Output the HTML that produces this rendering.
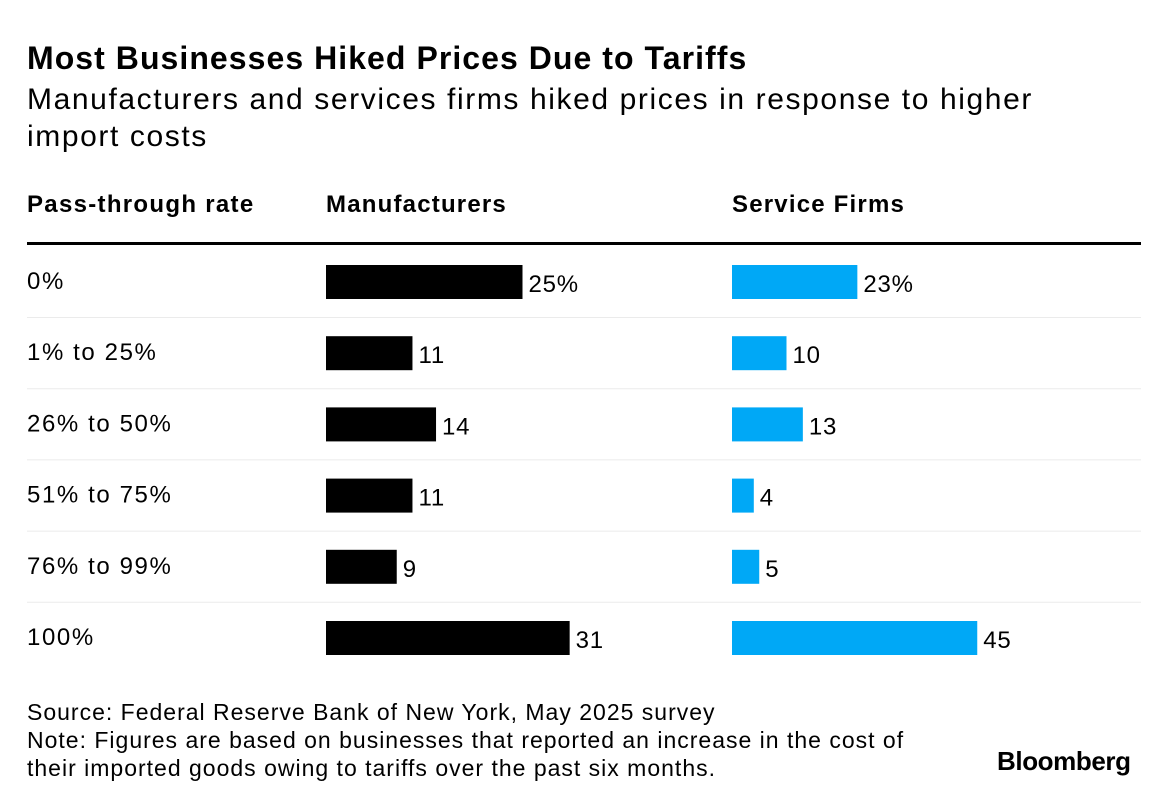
<!DOCTYPE html>
<html><head><meta charset="utf-8">
<style>
body{margin:0;background:#fff;font-family:"Liberation Sans",Arial,sans-serif;color:#000;}
#wrap{position:relative;width:1167px;height:804px;overflow:hidden;}
.t{position:absolute;white-space:nowrap;}
</style></head>
<body>
<div id="wrap">
<div class="t" style="left:27px;top:40px;font-size:32px;font-weight:bold;letter-spacing:1.05px;">Most Businesses Hiked Prices Due to Tariffs</div>
<div class="t" style="left:27px;top:81px;font-size:30px;line-height:37px;letter-spacing:1.6px;">Manufacturers and services firms hiked prices in response to higher<br>import costs</div>
<div class="t" style="left:27px;top:191px;font-size:24px;font-weight:bold;letter-spacing:1.3px;">Pass-through rate</div>
<div class="t" style="left:326px;top:191px;font-size:24px;font-weight:bold;letter-spacing:1.2px;">Manufacturers</div>
<div class="t" style="left:732px;top:191px;font-size:24px;font-weight:bold;letter-spacing:1.2px;">Service Firms</div>
<div style="position:absolute;left:27px;top:242px;width:1114px;height:3px;background:#000;"></div>
<svg id="svg" width="1167" height="804" style="position:absolute;left:0;top:0"></svg>
<div class="t" style="left:27px;top:698px;font-size:23px;line-height:28px;letter-spacing:1.0px;">Source: Federal Reserve Bank of New York, May 2025 survey<br>Note: Figures are based on businesses that reported an increase in the cost of<br>their imported goods owing to tariffs over the past six months.</div>
<div class="t" style="left:997px;top:746px;font-size:26px;font-weight:bold;letter-spacing:-0.4px;">Bloomberg</div>
</div>
<script>
const categories=["0%","1% to 25%","26% to 50%","51% to 75%","76% to 99%","100%"];
const manufacturers=[25,11,14,11,9,31];
const services=[23,10,13,4,5,45];
const ns="http://www.w3.org/2000/svg";
const svg=document.getElementById('svg');
const rowY=i=>282+i*71.2;
const mX=v=>v*7.86;
const sX=v=>v*5.45;
const ff='Liberation Sans, Arial, sans-serif';
function el(tag,attrs){const e=document.createElementNS(ns,tag);for(const k in attrs)e.setAttribute(k,attrs[k]);svg.appendChild(e);return e;}
categories.forEach((c,i)=>{
  const y=rowY(i);
  if(i<categories.length-1){const ln=el('line',{x1:27,x2:1141,y1:y+35.5,y2:y+35.5,stroke:'#ebebeb','stroke-width':1});
  
  }
  const lab=el('text',{x:27,y:y+7,'font-size':24,'font-family':ff,'letter-spacing':1.6});
  lab.textContent=c;
  
  
  const mw=mX(manufacturers[i]);
  const b1=el('rect',{x:326,y:y-17,width:mw,height:34,fill:'#000'});
  
  
  const t1=el('text',{x:326+mw+6,y:y+10,'font-size':24,'font-family':ff,'letter-spacing':0.8});
  t1.textContent=manufacturers[i]+(i===0?'%':'');
  
  
  const sw=sX(services[i]);
  const b2=el('rect',{x:732,y:y-17,width:sw,height:34,fill:'#00a8f6'});
  
  
  const t2=el('text',{x:732+sw+6,y:y+10,'font-size':24,'font-family':ff,'letter-spacing':0.8});
  t2.textContent=services[i]+(i===0?'%':'');
  
  
});
</script>
</body></html>
